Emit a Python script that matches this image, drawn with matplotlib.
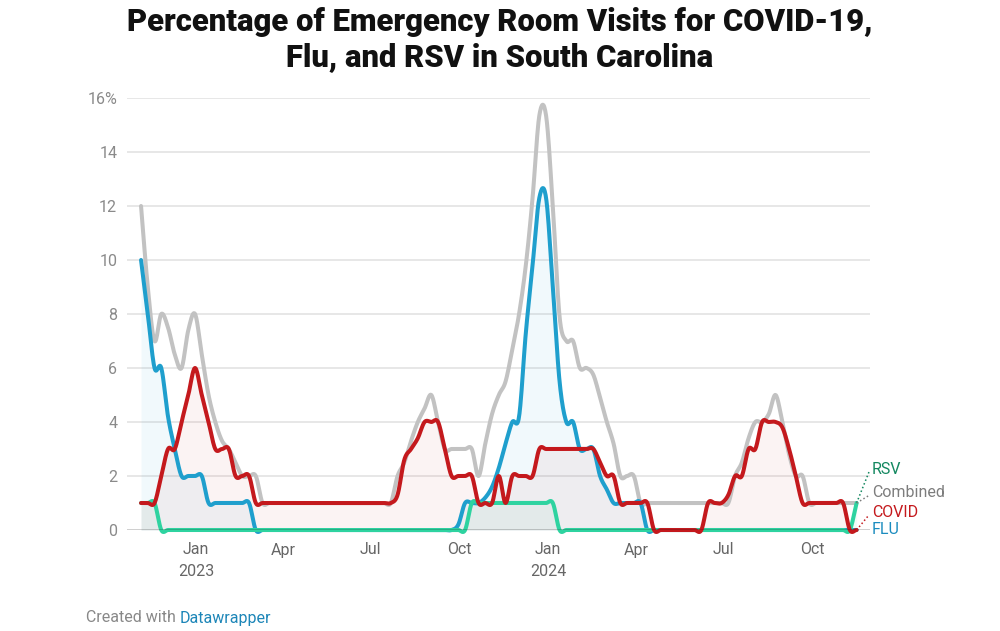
import numpy as np
import pandas as pd
import matplotlib
matplotlib.use("Agg")
import matplotlib.pyplot as plt
import matplotlib.dates as mdates

plt.rcParams["font.family"] = ["Roboto", "DejaVu Sans"]

# Weekly values (% of ER visits), starting week of 2022-11-05.
START = "2022-11-05"
N_WEEKS = 107

combined = [
    12, 9, 7, 8, 7.5, 6.5, 6, 7.4, 8, 6.5,
    5, 4, 3.3, 3, 2.5, 2, 2, 2, 1, 1,
    1, 1, 1, 1, 1, 1, 1, 1, 1, 1,
    1, 1, 1, 1, 1, 1, 1, 1, 2, 2.5,
    3.3, 4, 4.5, 5, 4, 3, 3, 3, 3, 3,
    2, 3.2, 4.3, 5, 5.5, 6.7, 8, 9.8, 12.3, 15.35,
    15.35, 12, 7.9, 7, 7, 6, 6, 5.75, 4.9, 4,
    3.2, 2, 2, 2, 1, 1, 1, 1, 1, 1,
    1, 1, 1, 1, 1, 1, 1, 1, 2, 2.5,
    3.4, 4, 4, 4.3, 5, 4, 2.8, 2, 2, 1,
    1, 1, 1, 1, 1, 1, 1,
]
flu = [
    10, 8, 6, 6, 4.2, 3, 2, 2, 2, 2,
    1, 1, 1, 1, 1, 1, 1, 0, 0, 0,
    0, 0, 0, 0, 0, 0, 0, 0, 0, 0,
    0, 0, 0, 0, 0, 0, 0, 0, 0, 0,
    0, 0, 0, 0, 0, 0, 0, 0.2, 1, 1,
    1, 1.2, 1.6, 2.3, 3.2, 4, 4.2, 7.3, 9.8, 12.3,
    12.3, 9, 5.5, 4, 4, 3, 3, 3, 2, 1.5,
    1, 1, 1, 1, 1, 0, 0, 0, 0, 0,
    0, 0, 0, 0, 0, 0, 0, 0, 0, 0,
    0, 0, 0, 0, 0, 0, 0, 0, 0, 0,
    0, 0, 0, 0, 0, 0, 0,
]
covid = [
    1, 1, 1, 2, 3, 3, 4, 5, 6, 5,
    4, 3, 3, 3, 2, 2, 2, 1, 1, 1,
    1, 1, 1, 1, 1, 1, 1, 1, 1, 1,
    1, 1, 1, 1, 1, 1, 1, 1, 1.3, 2.6,
    3, 3.4, 4, 4, 4, 3, 2, 2, 2, 2,
    1, 1, 1, 2, 1, 2, 2, 2, 2, 3,
    3, 3, 3, 3, 3, 3, 3, 3, 2.5, 2,
    2, 1, 1, 1, 1, 1, 0, 0, 0, 0,
    0, 0, 0, 0, 1, 1, 1, 1.3, 2, 2,
    3, 3, 4, 4, 4, 3.8, 3, 2, 1, 1,
    1, 1, 1, 1, 1, 0, 0,
]
rsv = [
    1, 1, 1, 0, 0, 0, 0, 0, 0, 0,
    0, 0, 0, 0, 0, 0, 0, 0, 0, 0,
    0, 0, 0, 0, 0, 0, 0, 0, 0, 0,
    0, 0, 0, 0, 0, 0, 0, 0, 0, 0,
    0, 0, 0, 0, 0, 0, 0, 0, 0, 1,
    1, 1, 1, 1, 1, 1, 1, 1, 1, 1,
    1, 1, 0, 0, 0, 0, 0, 0, 0, 0,
    0, 0, 0, 0, 0, 0, 0, 0, 0, 0,
    0, 0, 0, 0, 0, 0, 0, 0, 0, 0,
    0, 0, 0, 0, 0, 0, 0, 0, 0, 0,
    0, 0, 0, 0, 0, 0, 1,
]

tick_dates = ["2023-01-01", "2023-04-01", "2023-07-01", "2023-10-01",
              "2024-01-01", "2024-04-01", "2024-07-01", "2024-10-01"]
tick_labels = ["Jan\n2023", "Apr", "Jul", "Oct", "Jan\n2024", "Apr", "Jul", "Oct"]
y_ticks = [0, 2, 4, 6, 8, 10, 12, 14, 16]
y_labels = ["0", "2", "4", "6", "8", "10", "12", "14", "16%"]

C_GRAY = "#c2c2c2"
C_FLU = "#1f9fcd"
C_COVID = "#c4191d"
C_RSV = "#2ed3a0"


def catmull_rom(x, y, n=16):
    """Cardinal (Catmull-Rom) spline through the weekly points, like the original."""
    x = np.asarray(x, float)
    y = np.asarray(y, float)
    m = np.empty_like(y)
    m[1:-1] = (y[2:] - y[:-2]) / 2
    m[0] = y[1] - y[0]
    m[-1] = y[-1] - y[-2]
    xs, ys = [], []
    t = np.linspace(0, 1, n, endpoint=False)
    h00 = 2 * t**3 - 3 * t**2 + 1
    h10 = t**3 - 2 * t**2 + t
    h01 = -2 * t**3 + 3 * t**2
    h11 = t**3 - t**2
    for i in range(len(y) - 1):
        xs.append(x[i] + t * (x[i + 1] - x[i]))
        ys.append(h00 * y[i] + h10 * m[i] + h01 * y[i + 1] + h11 * m[i + 1])
    xs.append([x[-1]])
    ys.append([y[-1]])
    return np.concatenate(xs), np.concatenate(ys)


dates = mdates.date2num(pd.date_range(START, periods=N_WEEKS, freq="7D"))

fig = plt.figure(figsize=(10, 6.31), dpi=100)
ax = fig.add_axes([0.127, 1 - 530 / 631, 0.743, 432 / 631])

jan23 = mdates.date2num(pd.Timestamp("2023-01-01"))
px_day = 352 / 365
ax.set_xlim(jan23 - 69 / px_day, jan23 + 674 / px_day)
ax.set_ylim(0, 16)

for v in y_ticks[1:]:
    ax.axhline(v, color="#e5e5e5", lw=1.3, zorder=0)
ax.axhline(0, color="#111111", lw=1.0, zorder=6)

series = [
    ("combined", combined, C_GRAY, None, 2),
    ("flu", flu, C_FLU, 0.06, 3),
    ("rsv", rsv, C_RSV, 0.06, 4),
    ("covid", covid, C_COVID, 0.05, 5),
]
ends = {}
for name, vals, col, alpha, z in series:
    xs, ys = catmull_rom(dates, vals)
    if alpha:
        ax.fill_between(xs, 0, ys, color=col, alpha=alpha, lw=0, zorder=1)
    ax.plot(xs, ys, color=col, lw=2.9, solid_capstyle="round",
            solid_joinstyle="round", zorder=z, clip_on=False)
    ends[name] = (xs[-1], ys[-1])

for s in ax.spines.values():
    s.set_visible(False)

ax.set_yticks(y_ticks, y_labels)
ax.tick_params(axis="y", length=0, pad=7, labelsize=11.5, labelcolor="#8a8a8a")
ax.set_xticks(mdates.date2num(pd.to_datetime(tick_dates)), tick_labels)
ax.tick_params(axis="x", length=0, pad=9, labelsize=11.5, labelcolor="#666666")
for lbl in ax.get_xticklabels():
    lbl.set_linespacing(1.5)

# direct labels at the right end
lab_x = jan23 + 676 / px_day
labels = [
    ("RSV", "rsv", 2.25, "#12875f"),
    ("Combined", "combined", 1.38, "#7d7d7d"),
    ("COVID", "covid", 0.66, C_COVID),
    ("FLU", "flu", 0.0, "#1b8cbf"),
]
for text, key, ly, col in labels:
    ax.text(lab_x, ly, text, color=col, fontsize=11.5, va="center", ha="left",
            clip_on=False)
    ex, ey = ends[key]
    if key != "flu":
        ax.plot([ex, lab_x - 3 / px_day], [ey, ly - 0.1], ls=(0, (1, 1.6)),
                color=col, lw=1.1, clip_on=False, zorder=7)

fig.text(0.5, 1 - 22 / 631, "Percentage of Emergency Room Visits for COVID-19,",
         ha="center", va="center", fontsize=22.3, fontweight="black", color="#111111")
fig.text(0.5, 1 - 57 / 631, "Flu, and RSV in South Carolina",
         ha="center", va="center", fontsize=22.3, fontweight="black", color="#111111")

t1 = fig.text(86 / 1000, 1 - 618 / 631, "Created with ", ha="left", va="center",
              fontsize=11.5, color="#888888")
fig.canvas.draw()
bb = t1.get_window_extent()
fig.text(bb.x1 / 1000, 1 - 618 / 631, "Datawrapper", ha="left", va="center",
         fontsize=11.5, color="#1d86b8")

fig.savefig("out.png", dpi=100)
